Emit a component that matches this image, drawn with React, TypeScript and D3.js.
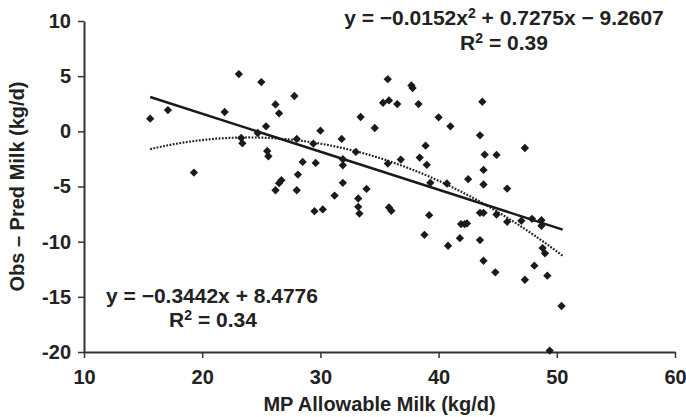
import React, { useEffect, useRef } from 'react';
import * as d3 from 'd3';

const mpMilk = [
  15.6, 17.1, 19.3, 21.9, 23.1, 23.3, 23.4, 24.7, 25.0, 25.4, 25.5, 25.6, 26.2, 26.5, 26.2, 26.7,
  26.5, 27.8, 28.0, 28.1, 28.0, 28.5, 29.4, 29.6, 29.5, 30.0, 30.2, 31.2, 31.8, 31.9, 31.9, 31.9,
  33.0, 33.2, 33.2, 33.3, 33.4, 33.9, 34.6, 35.3, 35.8, 35.7, 35.7, 35.8, 36.0, 36.5, 36.8, 37.7,
  37.8, 38.3, 38.4, 38.8, 38.9, 39.0, 39.3, 39.2, 40.0, 40.7, 40.8, 41.0, 41.8, 41.9, 42.2, 42.4,
  42.5, 43.5, 43.5, 43.5, 43.7, 43.8, 43.8, 43.8, 43.8, 43.9, 44.9, 44.9, 44.8, 45.8, 45.8, 47.0,
  47.3, 47.3, 47.9, 48.1, 48.7, 48.7, 48.8, 49.0, 49.2, 49.4, 50.4,
];
const obsMinusPred = [
  1.15, 1.93, -3.74, 1.75, 5.19, -0.6, -1.09, -0.15, 4.46, 0.45, -1.78, -2.26, 2.44, 1.63, -5.34, -4.43,
  -4.7, 3.2, -0.69, -3.92, -5.34, -2.77, -1.12, -2.86, -7.24, 0.06, -7.08, -5.82, -0.69, -2.53, -3.08, -4.67,
  -1.87, -6.09, -6.84, -7.45, 1.3, -5.22, 0.3, 2.59, 2.8, 4.73, -2.92, -6.9, -7.2, 2.47, -2.56, 4.16,
  3.92, 2.47, -2.38, -9.38, -1.3, -3.04, -4.67, -7.6, 1.27, -4.73, -10.37, 0.45, -9.68, -8.41, -8.41, -8.35,
  -4.34, -0.36, -7.39, -9.86, 2.68, -3.5, -4.82, -7.39, -11.73, -2.11, -2.14, -7.54, -12.78, -5.19, -8.2, -8.11,
  -1.51, -13.45, -7.93, -12.18, -8.05, -8.56, -10.58, -11.06, -13.08, -19.87, -15.83,
];

const xTicks = [10, 20, 30, 40, 50, 60];
const yTicks = [10, 5, 0, -5, -10, -15, -20];

// trend line coefficients printed on the chart
const linCoef = [-0.3442, 8.4776];
const quadCoef = [-0.0152, 0.7275, -9.2607];

const W = 686;
const H = 417;
const FONT = '"Liberation Sans", Arial, sans-serif';

export default function App() {
  const ref = useRef<SVGSVGElement>(null);

  useEffect(() => {
    const svg = d3.select(ref.current);
    svg.selectAll('*').remove();

    const margin = { left: 84, right: 11, top: 21, bottom: 65 };
    const x = d3.scaleLinear().domain([10, 60]).range([margin.left, W - margin.right]);
    const y = d3.scaleLinear().domain([-20, 10]).range([H - margin.bottom, margin.top]);

    const xAxis = svg.append('g')
      .attr('transform', `translate(0,${y(-20)})`)
      .call(d3.axisBottom(x).tickValues(xTicks).tickFormat(d => String(d)).tickSize(6).tickSizeOuter(0).tickPadding(12));
    const yAxis = svg.append('g')
      .attr('transform', `translate(${x(10)},0)`)
      .call(d3.axisLeft(y).tickValues(yTicks).tickFormat(d => String(d)).tickSize(6).tickSizeOuter(0).tickPadding(7));

    [xAxis, yAxis].forEach(g => {
      g.select('.domain').attr('stroke', '#333').attr('stroke-width', 2);
      g.selectAll('.tick line').attr('stroke', '#333').attr('stroke-width', 1.5);
      g.selectAll('.tick text')
        .attr('font-family', FONT)
        .attr('font-weight', 'bold')
        .attr('font-size', 20)
        .attr('fill', '#222');
    });

    svg.append('text')
      .attr('x', (x(10) + x(60)) / 2)
      .attr('y', 411)
      .attr('text-anchor', 'middle')
      .attr('font-family', FONT)
      .attr('font-weight', 'bold')
      .attr('font-size', 20)
      .attr('fill', '#222')
      .text('MP Allowable Milk (kg/d)');

    svg.append('text')
      .attr('transform', `translate(24,${(y(10) + y(-20)) / 2}) rotate(-90)`)
      .attr('text-anchor', 'middle')
      .attr('font-family', FONT)
      .attr('font-weight', 'bold')
      .attr('font-size', 20)
      .attr('fill', '#222')
      .text('Obs – Pred Milk (kg/d)');

    const xs = d3.range(15.6, 50.51, 0.1);
    const line = d3.line<number>().x(d => x(d));

    svg.append('path')
      .datum(xs)
      .attr('d', line.y(d => y(quadCoef[0] * d * d + quadCoef[1] * d + quadCoef[2])))
      .attr('fill', 'none')
      .attr('stroke', '#222')
      .attr('stroke-width', 2.2)
      .attr('stroke-dasharray', '1.8 1.5');

    svg.append('path')
      .datum([15.6, 50.5])
      .attr('d', line.y(d => y(linCoef[0] * d + linCoef[1])))
      .attr('fill', 'none')
      .attr('stroke', '#1a1a1a')
      .attr('stroke-width', 2.5);

    const diamond = d3.symbol().type(d3.symbolDiamond2).size(44);
    svg.append('g')
      .selectAll('path')
      .data(mpMilk.map((m, i) => [m, obsMinusPred[i]]))
      .enter()
      .append('path')
      .attr('d', diamond)
      .attr('transform', d => `translate(${x(d[0])},${y(d[1])})`)
      .attr('fill', '#1a1a1a');

    const label = (tx: number, ty: number, parts: [string, boolean][]) => {
      const t = svg.append('text')
        .attr('x', tx)
        .attr('y', ty)
        .attr('text-anchor', 'middle')
        .attr('font-family', FONT)
        .attr('font-weight', 'bold')
        .attr('font-size', 21)
        .attr('fill', '#222');
      let up = false;
      parts.forEach(([s, sup]) => {
        const dy = sup ? -7 : up ? 7 : 0;
        t.append('tspan')
          .attr('font-size', sup ? 14 : 21)
          .attr('dy', dy)
          .text(s);
        up = sup;
      });
    };

    label(504, 25, [['y = −0.0152x', false], ['2', true], [' + 0.7275x − 9.2607', false]]);
    label(504, 50, [['R', false], ['2', true], [' = 0.39', false]]);
    label(212, 303, [['y = −0.3442x + 8.4776', false]]);
    label(213, 327, [['R', false], ['2', true], [' = 0.34', false]]);
  }, []);

  return (
    <div style={{ position: 'absolute', left: 0, top: 0 }}>
      <svg ref={ref} width={W} height={H} style={{ display: 'block', background: '#fff' }} />
    </div>
  );
}
